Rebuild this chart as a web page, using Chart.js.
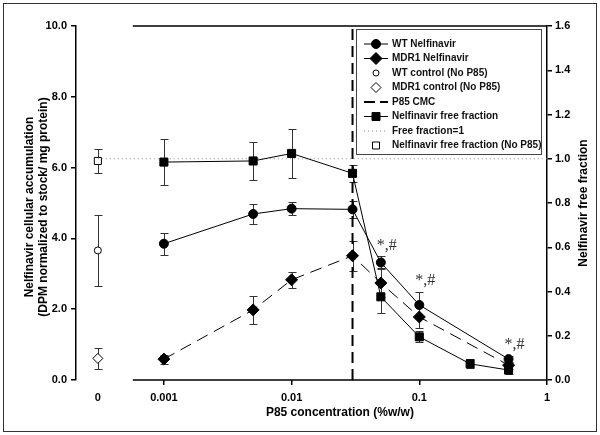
<!DOCTYPE html>
<html>
<head>
<meta charset="utf-8">
<script src="https://cdn.jsdelivr.net/npm/chart.js@4.4.0/dist/chart.umd.min.js"></script>
<style>
  html, body { margin: 0; padding: 0; background: #fff; }
</style>
</head>
<body>
<canvas id="chart" width="600" height="435"></canvas>
<script>
// P85 concentrations (%w/w)
const conc = [0.001, 0.005, 0.01, 0.03, 0.05, 0.1, 0.5];
const concFree = [0.001, 0.005, 0.01, 0.03, 0.05, 0.1, 0.25, 0.5];

// cellular accumulation (left axis)
const wtNelfinavir = [3.85, 4.69, 4.84, 4.82, 3.32, 2.12, 0.59];
const wtErr = [0.31, 0.28, 0.18, 0.23, 0.17, 0.37, 0.1];
const mdr1Nelfinavir = [0.59, 1.98, 2.83, 3.51, 2.74, 1.78, 0.42];
const mdr1Err = [0.13, 0.4, 0.23, 0.42, 0.4, 0.3, 0.1];

// free fraction (right axis)
const freeFraction = [0.985, 0.99, 1.024, 0.934, 0.376, 0.195, 0.073, 0.045];
const freeErr = [0.104, 0.085, 0.11, 0.04, 0.072, 0.025, 0.02, 0.02];

// controls without P85, shown at "0"
const wtControl = 3.66, wtControlErr = 1.0;
const mdr1Control = 0.61, mdr1ControlErr = 0.3;
const freeControl = 0.99, freeControlErr = 0.053;

const cmc = 0.03;
const freeOne = 1;
const significant = [0.05, 0.1, 0.5];   // WT points marked *,#

// the "0" column sits left of the axis break on the same log scale
const ZERO_AT = 0.000304;
const AXIS_BREAK = 0.000571;
const X_MIN = 0.000205;

const xTickValues = [ZERO_AT, 0.001, 0.01, 0.1, 1];
const xTickLabels = ['0', '0.001', '0.01', '0.1', '1'];
const yLeftTicks = [0, 2, 4, 6, 8, 10];
const yRightTicks = [0, 0.2, 0.4, 0.6, 0.8, 1.0, 1.2, 1.4, 1.6];

const FONT = '"Liberation Sans", Arial, sans-serif';

function pts(xs, ys) {
    return xs.map((x, i) => ({ x: x, y: ys[i] }));
}

const errorBars = [
    { axis: 'y', xs: conc, ys: wtNelfinavir, errs: wtErr },
    { axis: 'y', xs: conc, ys: mdr1Nelfinavir, errs: mdr1Err },
    { axis: 'y2', xs: concFree, ys: freeFraction, errs: freeErr },
    { axis: 'y', xs: [ZERO_AT], ys: [wtControl], errs: [wtControlErr] },
    { axis: 'y', xs: [ZERO_AT], ys: [mdr1Control], errs: [mdr1ControlErr] },
    { axis: 'y2', xs: [ZERO_AT], ys: [freeControl], errs: [freeControlErr] }
];

const errorBarPlugin = {
    id: 'errorBars',
    beforeDatasetsDraw(chart) {
        const ctx = chart.ctx;
        const xs = chart.scales.x;
        ctx.save();
        ctx.strokeStyle = '#333';
        ctx.lineWidth = 1;
        errorBars.forEach(set => {
            const ys = chart.scales[set.axis];
            set.xs.forEach((x, i) => {
                const px = Math.round(xs.getPixelForValue(x)) + 0.5;
                const top = Math.round(ys.getPixelForValue(set.ys[i] + set.errs[i])) + 0.5;
                const bot = Math.round(ys.getPixelForValue(set.ys[i] - set.errs[i])) + 0.5;
                ctx.beginPath();
                ctx.moveTo(px, top); ctx.lineTo(px, bot);
                ctx.moveTo(px - 4, top); ctx.lineTo(px + 4, top);
                ctx.moveTo(px - 4, bot); ctx.lineTo(px + 4, bot);
                ctx.stroke();
            });
        });
        ctx.restore();
    }
};

const legendItems = [
    { text: 'WT Nelfinavir', line: 'solid', marker: 'circle', fill: true },
    { text: 'MDR1 Nelfinavir', line: 'dash', marker: 'diamond', fill: true },
    { text: 'WT control (No P85)', line: null, marker: 'circle', fill: false },
    { text: 'MDR1 control (No P85)', line: null, marker: 'diamond', fill: false },
    { text: 'P85 CMC', line: 'bigdash', marker: null },
    { text: 'Nelfinavir free fraction', line: 'solid', marker: 'square', fill: true },
    { text: 'Free fraction=1', line: 'dot', marker: null },
    { text: 'Nelfinavir free fraction (No P85)', line: null, marker: 'square', fill: false }
];

function drawMarker(ctx, kind, x, y, fill) {
    ctx.beginPath();
    if (kind === 'circle') {
        ctx.arc(x, y, fill ? 4.5 : 3, 0, Math.PI * 2);
    } else if (kind === 'diamond') {
        const r = fill ? 6 : 5;
        ctx.moveTo(x, y - r); ctx.lineTo(x + r, y); ctx.lineTo(x, y + r); ctx.lineTo(x - r, y); ctx.closePath();
    } else {
        const s = fill ? 4 : 3.5;
        ctx.rect(x - s, y - s, 2 * s, 2 * s);
    }
    ctx.fillStyle = fill ? '#000' : '#fff';
    ctx.fill();
    ctx.strokeStyle = '#000';
    ctx.lineWidth = 1;
    ctx.setLineDash([]);
    ctx.stroke();
}

const decorPlugin = {
    id: 'decor',
    afterDraw(chart) {
        const ctx = chart.ctx;
        const area = chart.chartArea;
        const xs = chart.scales.x;
        const yl = chart.scales.y;
        ctx.save();

        // outer frame
        ctx.strokeStyle = '#333';
        ctx.lineWidth = 1;
        ctx.strokeRect(3.5, 3.5, 593, 428);

        // broken x axis and top line
        const bx = xs.getPixelForValue(AXIS_BREAK);
        ctx.strokeStyle = '#000';
        ctx.lineWidth = 1.5;
        ctx.beginPath();
        ctx.moveTo(bx, area.bottom); ctx.lineTo(area.right, area.bottom);
        ctx.moveTo(bx, area.top); ctx.lineTo(area.right, area.top);
        ctx.stroke();

        // axis titles
        ctx.fillStyle = '#000';
        ctx.font = 'bold 12px ' + FONT;
        ctx.textAlign = 'center';
        ctx.textBaseline = 'middle';
        ctx.fillText('P85 concentration (%w/w)', (bx + area.right) / 2, 413);
        ctx.save();
        ctx.translate(30, 207);
        ctx.rotate(-Math.PI / 2);
        ctx.fillText('Nelfinavir cellular accumulation', 0, 0);
        ctx.fillText('(DPM normalized to stock/ mg protein)', 0, 14);
        ctx.restore();
        ctx.save();
        ctx.translate(584, 203);
        ctx.rotate(-Math.PI / 2);
        ctx.fillText('Nelfinavir free fraction', 0, 0);
        ctx.restore();

        // significance marks
        ctx.font = '16px "Liberation Serif", "Times New Roman", serif';
        ctx.fillStyle = '#333';
        ctx.textAlign = 'left';
        significant.forEach(c => {
            const i = conc.indexOf(c);
            const px = xs.getPixelForValue(c);
            const py = yl.getPixelForValue(wtNelfinavir[i] + wtErr[i]);
            ctx.fillText('*,#', px - 4, py - 11);
        });

        // legend
        const lx = 356.5, ly = 29.5, lw = 185, lh = 125;
        ctx.fillStyle = '#fff';
        ctx.fillRect(lx, ly, lw, lh);
        ctx.strokeStyle = '#444';
        ctx.lineWidth = 1;
        ctx.strokeRect(lx, ly, lw, lh);
        ctx.font = 'bold 10px ' + FONT;
        ctx.textBaseline = 'middle';
        legendItems.forEach((it, k) => {
            const y = 44 + k * 14.5;
            const x0 = 364, x1 = 388, cx = 376;
            if (it.line) {
                ctx.beginPath();
                ctx.strokeStyle = it.line === 'dot' ? '#888' : '#000';
                ctx.lineWidth = it.line === 'bigdash' ? 2 : 1;
                if (it.line === 'dash') ctx.setLineDash([9, 6]);
                else if (it.line === 'bigdash') ctx.setLineDash([11, 5]);
                else if (it.line === 'dot') ctx.setLineDash([1, 3]);
                else ctx.setLineDash([]);
                ctx.moveTo(x0, y); ctx.lineTo(x1, y);
                ctx.stroke();
                ctx.setLineDash([]);
            }
            if (it.marker) drawMarker(ctx, it.marker, cx, y, it.fill);
            ctx.fillStyle = '#111';
            ctx.textAlign = 'left';
            ctx.fillText(it.text, 392, y);
        });
        ctx.restore();
    }
};

const tickFont = { family: FONT, size: 11, weight: 'bold' };

new Chart(document.getElementById('chart'), {
    type: 'line',
    data: {
        datasets: [
            {
                label: 'WT Nelfinavir',
                data: pts(conc, wtNelfinavir),
                yAxisID: 'y',
                borderColor: '#000', borderWidth: 1,
                pointStyle: 'circle', pointRadius: 4.5,
                pointBackgroundColor: '#000', pointBorderColor: '#000'
            },
            {
                label: 'MDR1 Nelfinavir',
                data: pts(conc, mdr1Nelfinavir),
                yAxisID: 'y',
                borderColor: '#000', borderWidth: 1, borderDash: [12, 7],
                pointStyle: 'rectRot', pointRadius: 6,
                pointBackgroundColor: '#000', pointBorderColor: '#000'
            },
            {
                label: 'WT control (No P85)',
                data: [{ x: ZERO_AT, y: wtControl }],
                yAxisID: 'y', showLine: false,
                pointStyle: 'circle', pointRadius: 3.5,
                pointBackgroundColor: '#fff', pointBorderColor: '#000', pointBorderWidth: 1
            },
            {
                label: 'MDR1 control (No P85)',
                data: [{ x: ZERO_AT, y: mdr1Control }],
                yAxisID: 'y', showLine: false,
                pointStyle: 'rectRot', pointRadius: 5,
                pointBackgroundColor: '#fff', pointBorderColor: '#000', pointBorderWidth: 1
            },
            {
                label: 'P85 CMC',
                data: [{ x: cmc, y: 0 }, { x: cmc, y: 10 }],
                yAxisID: 'y',
                borderColor: '#000', borderWidth: 2, borderDash: [11, 6],
                pointRadius: 0
            },
            {
                label: 'Nelfinavir free fraction',
                data: pts(concFree, freeFraction),
                yAxisID: 'y2',
                borderColor: '#000', borderWidth: 1,
                pointStyle: 'rect', pointRadius: 5.7,
                pointBackgroundColor: '#000', pointBorderColor: '#000'
            },
            {
                label: 'Free fraction=1',
                data: [{ x: ZERO_AT, y: freeOne }, { x: 1, y: freeOne }],
                yAxisID: 'y2',
                borderColor: '#999', borderWidth: 1, borderDash: [1, 3],
                pointRadius: 0
            },
            {
                label: 'Nelfinavir free fraction (No P85)',
                data: [{ x: ZERO_AT, y: freeControl }],
                yAxisID: 'y2', showLine: false,
                pointStyle: 'rect', pointRadius: 5,
                pointBackgroundColor: '#fff', pointBorderColor: '#000', pointBorderWidth: 1
            }
        ]
    },
    options: {
        responsive: false,
        animation: false,
        devicePixelRatio: 1,
        layout: { padding: { top: 26, left: 0, right: 0, bottom: 0 } },
        plugins: {
            legend: { display: false },
            tooltip: { enabled: false }
        },
        scales: {
            x: {
                type: 'logarithmic',
                min: X_MIN, max: 1,
                border: { display: false },
                grid: {
                    drawOnChartArea: false, tickLength: 5,
                    tickColor: c => (c.tick && c.tick.value === ZERO_AT) ? 'rgba(0,0,0,0)' : '#000',
                    lineWidth: 1.5
                },
                afterBuildTicks: s => { s.ticks = xTickValues.map(v => ({ value: v })); },
                ticks: {
                    autoSkip: false, maxRotation: 0, padding: 6,
                    color: '#000', font: tickFont,
                    callback: (v, i) => xTickLabels[i]
                },
                afterFit: s => { s.height = 55; }
            },
            y: {
                position: 'left',
                min: 0, max: 10,
                border: { display: true, color: '#000', width: 1.5 },
                grid: { drawOnChartArea: false, tickLength: 5, tickColor: '#000', lineWidth: 1.5 },
                afterBuildTicks: s => { s.ticks = yLeftTicks.map(v => ({ value: v })); },
                ticks: { color: '#000', font: tickFont, padding: 4, callback: v => Number(v).toFixed(1) },
                afterFit: s => { s.width = 76; }
            },
            y2: {
                position: 'right',
                min: 0, max: 1.6,
                border: { display: true, color: '#000', width: 1.5 },
                grid: { drawOnChartArea: false, tickLength: 5, tickColor: '#000', lineWidth: 1.5 },
                afterBuildTicks: s => { s.ticks = yRightTicks.map(v => ({ value: v })); },
                ticks: { color: '#000', font: tickFont, padding: 3, callback: v => Number(v).toFixed(1) },
                afterFit: s => { s.width = 53; }
            }
        }
    },
    plugins: [errorBarPlugin, decorPlugin]
});
</script>
</body>
</html>
